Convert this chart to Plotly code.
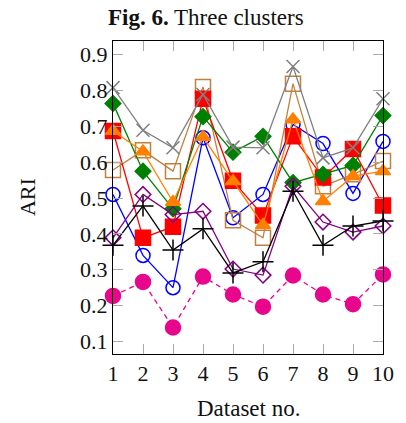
import plotly.graph_objects as go

datasets = [1, 2, 3, 4, 5, 6, 7, 8, 9, 10]

blue_circle = [0.51, 0.34, 0.25, 0.668, 0.445, 0.51, 0.705, 0.652, 0.513, 0.658]
brown_square = [0.578, 0.633, 0.575, 0.81, 0.438, 0.389, 0.819, 0.533, 0.566, 0.603]
red_square = [0.687, 0.389, 0.42, 0.777, 0.548, 0.451, 0.672, 0.557, 0.637, 0.479]
green_diamond = [0.764, 0.575, 0.47, 0.727, 0.628, 0.672, 0.543, 0.566, 0.591, 0.730]
orange_triangle = [0.687, 0.63, 0.489, 0.67, 0.547, 0.425, 0.719, 0.491, 0.561, 0.575]
gray_x = [0.808, 0.689, 0.64, 0.789, 0.642, 0.64, 0.867, 0.612, 0.64, 0.777]
purple_diamond = [0.389, 0.51, 0.454, 0.463, 0.302, 0.285, 0.533, 0.433, 0.405, 0.422]
black_plus = [0.368, 0.478, 0.355, 0.414, 0.291, 0.322, 0.519, 0.368, 0.422, 0.436]
magenta_circle = [0.227, 0.266, 0.139, 0.281, 0.231, 0.197, 0.284, 0.231, 0.204, 0.287]

y_ticks = [0.1, 0.2, 0.3, 0.4, 0.5, 0.6, 0.7, 0.8, 0.9]
y_tick_labels = ["0.1", "0.2", "0.3", "0.4", "0.5", "0.6", "0.7", "0.8", "0.9"]

FONT = "Liberation Serif"

series = [
    (blue_circle, "#0000ff", "circle-open", 14, "solid"),
    (brown_square, "#bf8040", "square-open", 15, "solid"),
    (red_square, "#ff0000", "square", 15, "solid"),
    (green_diamond, "#008000", "diamond", 12, "solid"),
    (orange_triangle, "#ff8000", "triangle-up", 13, "solid"),
    (gray_x, "#808080", "x-thin-open", 13, "solid"),
    (purple_diamond, "#800080", "diamond-open", 12, "solid"),
    (black_plus, "#000000", "cross-thin-open", 15, "solid"),
    (magenta_circle, "#e8068c", "circle", 15, "5px,4px"),
]

fig = go.Figure()
for vals, col, sym, size, dash in series:
    fig.add_trace(go.Scatter(
        x=datasets, y=vals, mode="lines+markers",
        line=dict(color=col, width=1.3, dash=dash),
        marker=dict(symbol=sym, size=size, color=col,
                    line=dict(color=col, width=1.5)),
        cliponaxis=False, showlegend=False,
    ))

fig.update_layout(
    width=406, height=423,
    margin=dict(l=113, r=15, t=41, b=69),
    paper_bgcolor="white", plot_bgcolor="white",
    font=dict(family=FONT, size=22, color="#111"),
    showlegend=False,
)
fig.update_xaxes(
    range=[1, 10], tickvals=datasets, ticktext=[str(d) for d in datasets],
    ticks="inside", ticklen=10, tickcolor="#aaaaaa", tickwidth=1,
    showline=True, linecolor="black", linewidth=1, mirror="ticks",
    showgrid=False, zeroline=False, tickfont=dict(family=FONT, size=22),
)
fig.update_yaxes(
    range=[0.065, 0.938], tickvals=y_ticks, ticktext=y_tick_labels,
    ticks="inside", ticklen=10, tickcolor="#aaaaaa", tickwidth=1,
    showline=True, linecolor="black", linewidth=1, mirror="ticks",
    showgrid=False, zeroline=False, tickfont=dict(family=FONT, size=22),
)

fig.add_annotation(text="<b>Fig. 6.</b> Three clusters", xref="paper", yref="paper",
                   x=0.345, y=1.0757, xanchor="center", yanchor="middle",
                   showarrow=False, font=dict(family=FONT, size=23, color="#111"))
fig.add_annotation(text="ARI", xref="paper", yref="paper",
                   x=-0.3166, y=0.5, xanchor="center", yanchor="middle", textangle=-90,
                   showarrow=False, font=dict(family=FONT, size=22, color="#111"))
fig.add_annotation(text="Dataset no.", xref="paper", yref="paper",
                   x=0.5, y=-0.173, xanchor="center", yanchor="middle",
                   showarrow=False, font=dict(family=FONT, size=23, color="#111"))

fig.write_html("out.html", config={"displayModeBar": False},
               post_script="document.body.style.margin='0';document.body.style.overflow='hidden';")
